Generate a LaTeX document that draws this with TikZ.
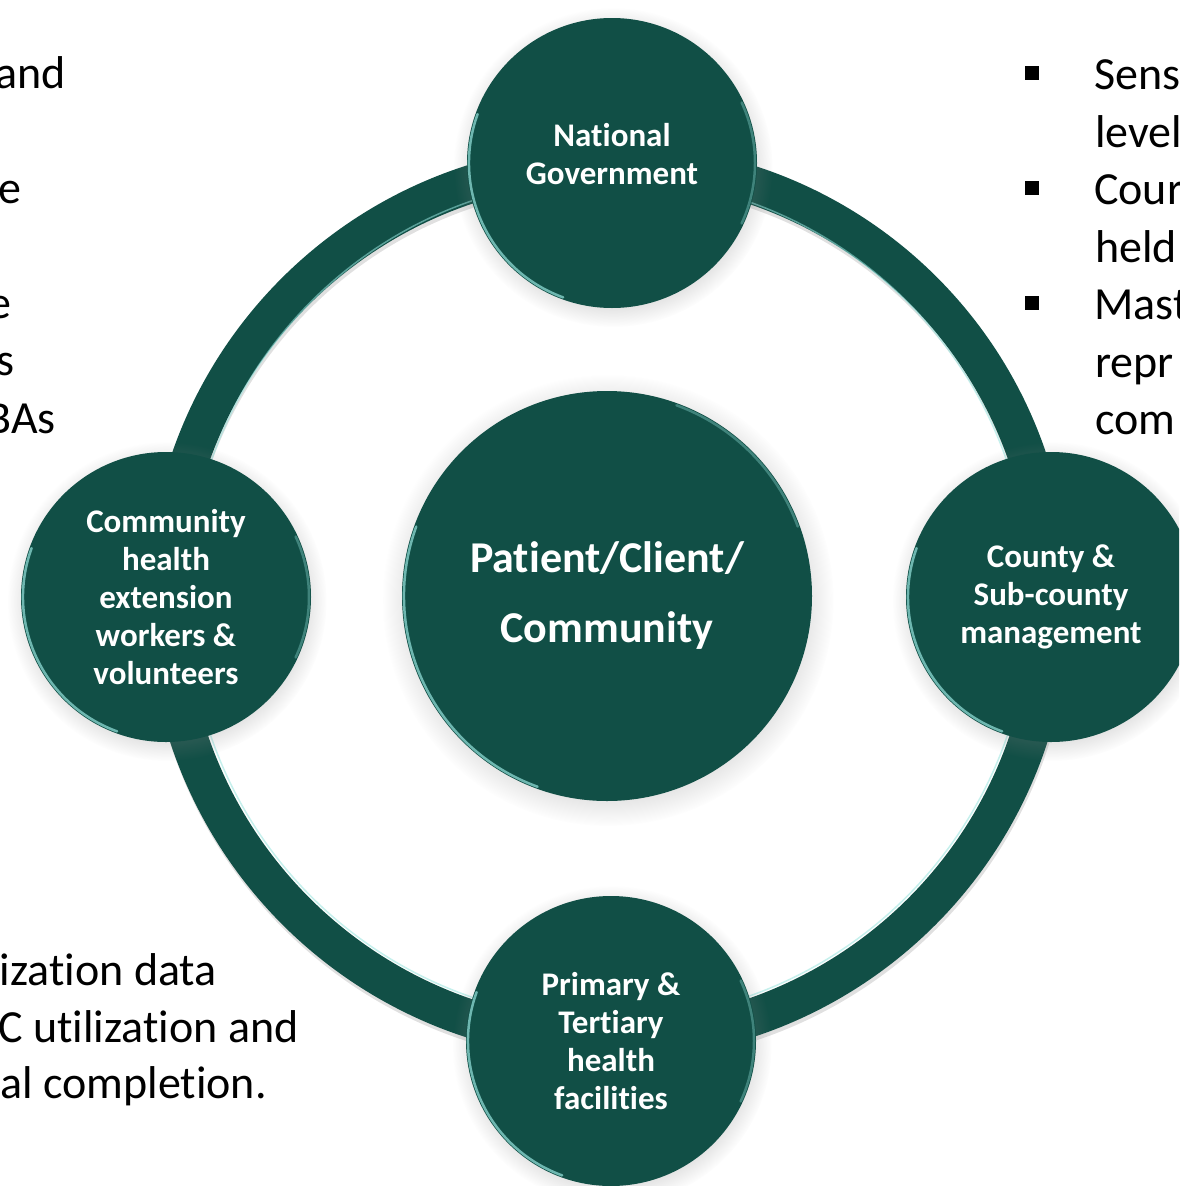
\documentclass[tikz,border=0pt]{standalone}
\usepackage{fontspec}
\setmainfont{Carlito}[Ligatures=NoCommon]
\usetikzlibrary{positioning,shadows,backgrounds}
\definecolor{deepteal}{RGB}{17,79,70}
\definecolor{rimteal}{RGB}{150,228,222}
\tikzstyle{spoketext}=[text=white,align=center,font=\bfseries\fontsize{33}{38}\selectfont]
\tikzstyle{hub}=[circle,fill=deepteal,minimum size=410pt,inner sep=0pt,text=white,align=center,
  font=\bfseries\fontsize{44}{70}\selectfont,
  circular drop shadow={shadow xshift=1pt,shadow yshift=-4pt,opacity=.25}]
\tikzstyle{spoke}=[circle,fill=deepteal,minimum size=290pt,inner sep=0pt,spoketext,
  circular drop shadow={shadow xshift=1pt,shadow yshift=-4pt,opacity=.25}]
\tikzstyle{ring}=[draw=deepteal,line width=38pt]
\tikzstyle{ringshade}=[draw=black,opacity=.12,line width=38pt]
\tikzstyle{ringlight}=[draw=rimteal,opacity=.55,line width=1.5pt]
\tikzstyle{rimlight}=[draw=rimteal,line width=2.5pt,opacity=.7,line cap=round]
\tikzstyle{note}=[font=\fontsize{46}{56}\selectfont,inner sep=0pt]
\tikzstyle{bulletsq}=[fill=black,minimum size=14pt,inner sep=0pt]

\begin{document}
\begin{tikzpicture}[x=1pt,y=-1pt]
  \useasboundingbox (0,0) rectangle (1179,1186);
  \clip (0,0) rectangle (1179,1186);

  \node (patient) [hub] at (607,596) {Patient/Client/\\Community};
  \node (natgov) [spoke,label={[spoketext,yshift=9pt]center:{National\\Government}}] at (612,163) {};
  \node (county) [spoke] at (1051,597) {County \&\\Sub-county\\management};
  \node (facilities) [spoke] at (611,1041) {Primary \&\\Tertiary\\health\\facilities};
  \node (chews) [spoke] at (166,597) {Community\\health\\extension\\workers \&\\volunteers};

  % ring behind the circles
  \begin{scope}[on background layer]
    \fill[white] (0,0) rectangle (1179,1186);
    \begin{scope}[transform canvas={xshift=1pt,yshift=-4pt}]
      \path[ringshade] (natgov.center) edge [bend left=45] (county.center)
        (county.center) edge [bend left=45] (facilities.center)
        (facilities.center) edge [bend left=45] (chews.center)
        (chews.center) edge [bend left=45] (natgov.center);
    \end{scope}
    \path[ring] (natgov.center) edge [bend left=45] (county.center)
      (county.center) edge [bend left=45] (facilities.center)
      (facilities.center) edge [bend left=45] (chews.center)
      (chews.center) edge [bend left=45] (natgov.center);
    \draw[ringlight] (609,599) circle (421);
  \end{scope}

  \foreach \n in {natgov,county,facilities,chews}{
    \draw[rimlight] ([shift={(110:143)}]\n.center) arc[start angle=110,end angle=200,radius=143];
    \draw[rimlight,opacity=.35] ([shift={(-25:143)}]\n.center) arc[start angle=-25,end angle=25,radius=143];
  }
  \draw[rimlight] ([shift={(110:203)}]patient.center) arc[start angle=110,end angle=200,radius=203];
  \draw[rimlight,opacity=.35] ([shift={(-70:203)}]patient.center) arc[start angle=-70,end angle=-20,radius=203];

  % cut-off text on the left
  \node (lefta) [note,anchor=base east] at (66,88) {and};
  \node (leftb) [note,anchor=base east] at (22,203) {e};
  \node (leftc) [note,anchor=base east] at (12,318) {e};
  \node (leftd) [note,anchor=base east] at (15,375) {s};
  \node (lefte) [note,anchor=base east] at (56,433) {BAs};

  % cut-off bullets on the right
  \node (bulla) [bulletsq] at (1032,73) {};
  \node (bullb) [bulletsq] at (1032,188) {};
  \node (bullc) [bulletsq] at (1032,303) {};
  \node (righta) [note,anchor=base west] at (1094,89) {Sens};
  \node (rightb) [note,anchor=base west] at (1095,147) {level};
  \node (rightc) [note,anchor=base west] at (1094,204) {Cour};
  \node (rightd) [note,anchor=base west] at (1095,262) {held};
  \node (righte) [note,anchor=base west] at (1094,319) {Mast};
  \node (rightf) [note,anchor=base west] at (1095,377) {repr};
  \node (rightg) [note,anchor=base west] at (1095,434) {com};

  % cut-off text bottom left
  \node (lowa) [note,anchor=base east] at (217,985) {ization data};
  \node (lowb) [note,anchor=base east] at (299,1042) {C utilization and};
  \node (lowc) [note,anchor=base east] at (267,1098) {al completion.};
\end{tikzpicture}
\end{document}
